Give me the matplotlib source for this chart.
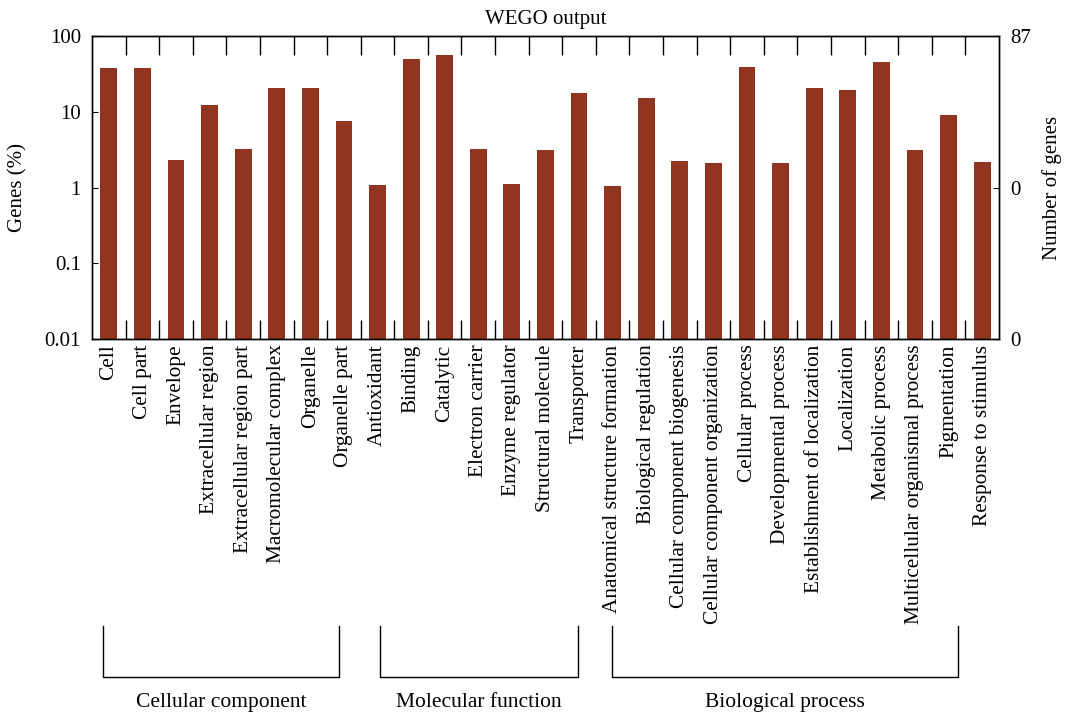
import numpy as np
import matplotlib
matplotlib.use("Agg")
from matplotlib import pyplot as plt
from matplotlib.ticker import NullLocator

plt.rcParams['font.family'] = ['Liberation Serif', 'DejaVu Serif']

terms = ["Cell", "Cell part", "Envelope", "Extracellular region",
         "Extracellular region part", "Macromolecular complex", "Organelle",
         "Organelle part", "Antioxidant", "Binding", "Catalytic",
         "Electron carrier", "Enzyme regulator", "Structural molecule",
         "Transporter", "Anatomical structure formation",
         "Biological regulation", "Cellular component biogenesis",
         "Cellular component organization", "Cellular process",
         "Developmental process", "Establishment of localization",
         "Localization", "Metabolic process",
         "Multicellular organismal process", "Pigmentation",
         "Response to stimulus"]
genes_pct = [37.8, 37.8, 2.31, 12.3, 3.23, 20.6, 20.6, 7.56,
             1.08, 49.7, 56.2, 3.23, 1.12, 3.17, 17.7,
             1.05, 15.2, 2.24, 2.1, 39.0, 2.1, 20.6, 19.4, 45.4, 3.17, 9.08, 2.17]
groups = ["Cellular component", "Molecular function", "Biological process"]
group_span = [(-0.17, 6.85), (8.07, 13.96), (14.98, 25.27)]
right_ticks = [0.01, 1, 100]
right_labels = ["0", "0", "87"]

fig = plt.figure(figsize=(10.66, 7.16), dpi=100)
ax = fig.add_axes([0.0863, 0.5265, 0.8508, 0.4232])
x = np.arange(len(terms))
ax.bar(x, genes_pct, width=0.5, bottom=0.001, color="#923520")
ax.set_yscale("log")
ax.set_ylim(0.01, 100)
ax.set_xlim(-0.5, len(terms) - 0.5)
ax.set_yticks([0.01, 0.1, 1, 10, 100])
ax.set_yticklabels(["0.01", "0.1", "1", "10", "100"], fontsize=15)
ax.yaxis.set_minor_locator(NullLocator())
ax.tick_params(axis="y", direction="in", length=4, pad=8)
ax.set_ylabel("Genes (%)", fontsize=15, labelpad=12)
ax.set_xticks(x)
ax.set_xticklabels(terms, rotation=90, fontsize=15.3)
ax.tick_params(axis="x", length=0, pad=4)
# separators between bars, top and bottom
ax.set_xticks(x[:-1] + 0.5, minor=True)
ax.tick_params(axis="x", which="minor", direction="in", length=14,
               top=True, bottom=True, width=1)
ax.set_title("WEGO output", fontsize=15, pad=9)

ax2 = ax.twinx()
ax2.set_yscale("log")
ax2.set_ylim(0.01, 100)
ax2.set_yticks(right_ticks)
ax2.set_yticklabels(right_labels, fontsize=15)
ax2.yaxis.set_minor_locator(NullLocator())
ax2.tick_params(axis="y", direction="in", length=4, pad=8)
ax2.set_ylabel("Number of genes", fontsize=15, labelpad=8)

for a in (ax, ax2):
    for s in a.spines.values():
        s.set_linewidth(1.0)

trans = ax.get_xaxis_transform()
for name, (x0, x1) in zip(groups, group_span):
    ax.plot([x0, x0, x1, x1], [-0.947, -1.116, -1.116, -0.947], color="black",
            lw=1.0, transform=trans, clip_on=False)
    ax.text((x0 + x1) / 2, -1.2, name, transform=trans, ha="center",
            va="center", fontsize=15.5)

fig.savefig("out.png", dpi=100)
